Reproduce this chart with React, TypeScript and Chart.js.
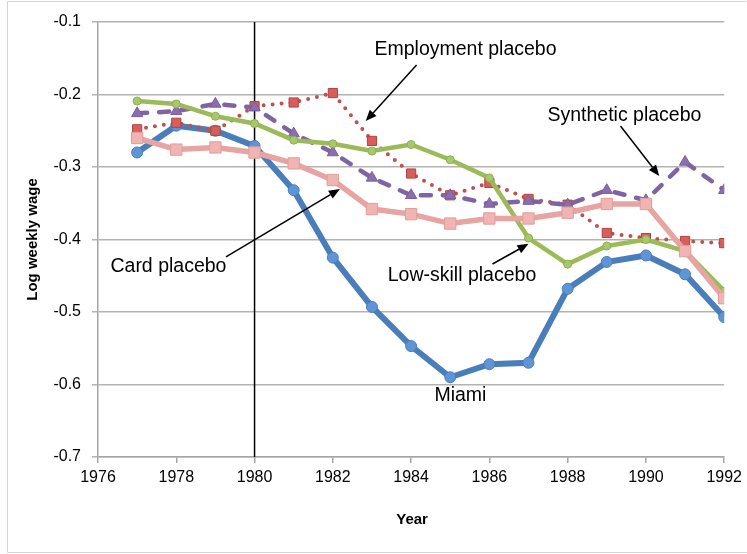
import React, { useEffect, useRef } from "react";
import { Chart, registerables } from "chart.js";

Chart.register(...registerables);

const years = [1977, 1978, 1979, 1980, 1981, 1982, 1983, 1984, 1985, 1986, 1987, 1988, 1989, 1990, 1991, 1992];
const miami = [-0.28, -0.243, -0.25, -0.271, -0.332, -0.425, -0.493, -0.547, -0.59, -0.572, -0.57, -0.468, -0.431, -0.422, -0.448, -0.507];
const lowSkill = [-0.209, -0.213, -0.23, -0.24, -0.263, -0.268, -0.278, -0.269, -0.29, -0.315, -0.398, -0.434, -0.409, -0.4, -0.416, -0.471];
const card = [-0.26, -0.276, -0.273, -0.28, -0.295, -0.318, -0.358, -0.365, -0.378, -0.371, -0.371, -0.363, -0.351, -0.351, -0.416, -0.481];
const employment = [-0.248, -0.239, -0.25, -0.216, -0.211, -0.198, -0.264, -0.309, -0.339, -0.322, -0.344, -0.352, -0.391, -0.398, -0.402, -0.405];
const synthetic = [-0.226, -0.223, -0.213, -0.218, -0.254, -0.28, -0.315, -0.339, -0.339, -0.351, -0.347, -0.352, -0.332, -0.346, -0.293, -0.332];

const xTicks = [1976, 1978, 1980, 1982, 1984, 1986, 1988, 1990, 1992];
const yTicks = [-0.7, -0.6, -0.5, -0.4, -0.3, -0.2, -0.1];
const treatmentYear = 1980;
const xTitle = "Year";
const yTitle = "Log weekly wage";

// annotations in data coordinates: [text, x, y]
const labels: [string, number, number][] = [
  ["Employment placebo", 1985.39, -0.1386],
  ["Synthetic placebo", 1989.45, -0.229],
  ["Card placebo", 1977.8, -0.437],
  ["Low-skill placebo", 1985.3, -0.45],
  ["Miami", 1985.26, -0.616],
];
// arrows in data coordinates: [x0, y0, x1, y1]
const arrows: [number, number, number, number][] = [
  [1984.14, -0.1593, 1982.84, -0.2366],
  [1989.35, -0.2434, 1990.34, -0.3124],
  [1979.27, -0.424, 1982.18, -0.3303],
  [1986.08, -0.4338, 1987.0, -0.406],
];

const toXY = (vals: number[]) => years.map((y, i) => ({ x: y, y: vals[i] }));

export default function App() {
  const ref = useRef<HTMLCanvasElement | null>(null);
  useEffect(() => {
    document.body.style.margin = "0";
    const canvas = ref.current!;
    const annotate = {
      id: "annotate",
      beforeDatasetsDraw(chart: any) {
        const { ctx, chartArea, scales } = chart;
        const x = scales.x.getPixelForValue(treatmentYear);
        ctx.save();
        ctx.strokeStyle = "#000";
        ctx.lineWidth = 1.5;
        ctx.beginPath();
        ctx.moveTo(x, chartArea.top);
        ctx.lineTo(x, chartArea.bottom);
        ctx.stroke();
        ctx.restore();
      },
      afterDraw(chart: any) {
        const { ctx, scales, chartArea, width, height } = chart;
        ctx.save();
        // outer frame
        ctx.strokeStyle = "#d4d4d4";
        ctx.lineWidth = 1;
        ctx.beginPath();
        ctx.moveTo(7.5, height - 1.5);
        ctx.lineTo(7.5, 1.5);
        ctx.lineTo(width - 0.5, 1.5);
        ctx.moveTo(7.5, height - 1.5);
        ctx.lineTo(width, height - 1.5);
        ctx.stroke();
        // titles
        ctx.fillStyle = "#000";
        ctx.font = "bold 15px 'Liberation Sans', Arial, sans-serif";
        ctx.textAlign = "center";
        ctx.textBaseline = "middle";
        ctx.fillText(xTitle, (chartArea.left + chartArea.right) / 2 + 1, 520);
        ctx.save();
        ctx.translate(33, (chartArea.top + chartArea.bottom) / 2);
        ctx.rotate(-Math.PI / 2);
        ctx.fillText(yTitle, 0, 0);
        ctx.restore();
        // labels
        ctx.font = "19.5px 'Liberation Sans', Arial, sans-serif";
        for (const [t, lx, ly] of labels) {
          ctx.fillText(t, scales.x.getPixelForValue(lx), scales.y.getPixelForValue(ly));
        }
        // arrows
        ctx.strokeStyle = "#000";
        ctx.lineWidth = 1.5;
        for (const [a, b, c, d] of arrows) {
          const x0 = scales.x.getPixelForValue(a);
          const y0 = scales.y.getPixelForValue(b);
          const x1 = scales.x.getPixelForValue(c);
          const y1 = scales.y.getPixelForValue(d);
          const ang = Math.atan2(y1 - y0, x1 - x0);
          const hl = 11, hw = 4.5;
          const bx = x1 - hl * Math.cos(ang);
          const by = y1 - hl * Math.sin(ang);
          ctx.beginPath();
          ctx.moveTo(x0, y0);
          ctx.lineTo(bx, by);
          ctx.stroke();
          ctx.beginPath();
          ctx.moveTo(x1, y1);
          ctx.lineTo(bx + hw * Math.sin(ang), by - hw * Math.cos(ang));
          ctx.lineTo(bx - hw * Math.sin(ang), by + hw * Math.cos(ang));
          ctx.closePath();
          ctx.fillStyle = "#000";
          ctx.fill();
        }
        ctx.restore();
      },
    };
    const chart = new Chart(canvas, {
      type: "line",
      data: {
        datasets: [
          {
            label: "Card placebo",
            data: toXY(card),
            borderColor: "#e6a5a2",
            borderWidth: 5.5,
            pointStyle: "rect",
            pointRadius: 8,
            pointBackgroundColor: "#f0b5b2",
            pointBorderColor: "#e39d9a",
            pointBorderWidth: 1,
          },
          {
            label: "Low-skill placebo",
            data: toXY(lowSkill),
            borderColor: "#9bbb59",
            borderWidth: 4.5,
            pointStyle: "circle",
            pointRadius: 4,
            pointBackgroundColor: "#a9c76e",
            pointBorderColor: "#8fb04c",
            pointBorderWidth: 1,
          },
          {
            label: "Synthetic placebo",
            data: toXY(synthetic),
            borderColor: "#8064a2",
            borderWidth: 4.5,
            borderDash: [10, 12],
            borderCapStyle: "round",
            pointStyle: "triangle",
            pointRadius: 6.5,
            pointBackgroundColor: "#8a6fae",
            pointBorderColor: "#7a5e9c",
            pointBorderWidth: 1,
          },
          {
            label: "Employment placebo",
            data: toXY(employment),
            borderColor: "#c0504d",
            borderWidth: 4,
            borderDash: [0, 9],
            borderCapStyle: "round",
            pointStyle: "rect",
            pointRadius: 6.5,
            pointBackgroundColor: "#d65f5b",
            pointBorderColor: "#b4423f",
            pointBorderWidth: 1,
          },
          {
            label: "Miami",
            data: toXY(miami),
            borderColor: "#4a7ebb",
            borderWidth: 6,
            pointStyle: "circle",
            pointRadius: 5.5,
            pointBackgroundColor: "#5f95d6",
            pointBorderColor: "#4a7ebb",
            pointBorderWidth: 1,
          },
        ],
      },
      options: {
        animation: false,
        responsive: false,
        devicePixelRatio: 1,
        layout: { padding: { left: 0, top: 22, right: 22, bottom: 0 } },
        plugins: { legend: { display: false }, tooltip: { enabled: false } },
        elements: { line: { tension: 0 } },
        scales: {
          x: {
            type: "linear",
            min: 1976,
            max: 1992,
            afterFit: (s: any) => { s.height = 97; },
            afterBuildTicks: (s: any) => { s.ticks = xTicks.map((v) => ({ value: v })); },
            ticks: {
              color: "#000",
              padding: 5,
              font: { family: "'Liberation Sans', Arial, sans-serif", size: 16 },
              maxRotation: 0,
              callback: (v: any) => String(v),
            },
            grid: { drawOnChartArea: false, drawTicks: true, tickLength: 6, color: "#a6a6a6", lineWidth: 1.5 },
            border: { color: "#a6a6a6", width: 1.5 },
          },
          y: {
            type: "linear",
            min: -0.7,
            max: -0.1,
            afterFit: (s: any) => { s.width = 98; },
            afterBuildTicks: (s: any) => { s.ticks = yTicks.map((v) => ({ value: v })); },
            ticks: {
              color: "#000",
              padding: 11,
              font: { family: "'Liberation Sans', Arial, sans-serif", size: 16 },
              callback: (v: any) => Number(v).toFixed(1),
            },
            grid: { color: "#b3b3b3", lineWidth: 1.5, tickLength: 6 },
            border: { color: "#a6a6a6", width: 1.5 },
          },
        },
      },
      plugins: [annotate],
    });
    return () => chart.destroy();
  }, []);
  return (
    <div style={{ width: 747, height: 554 }}>
      <canvas ref={ref} width={747} height={554} />
    </div>
  );
}
